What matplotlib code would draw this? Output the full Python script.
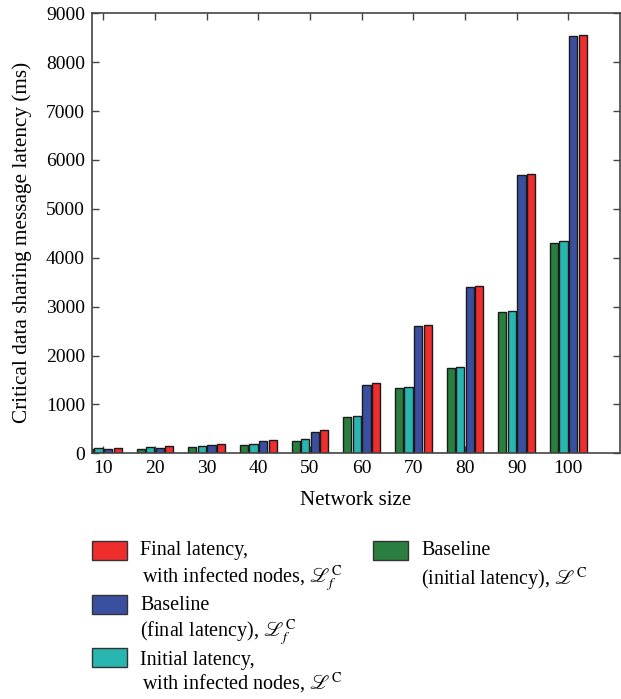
import numpy as np
import matplotlib
matplotlib.use("Agg")
import matplotlib.pyplot as plt
from matplotlib.patches import Rectangle

plt.rcParams['font.family'] = ['Liberation Serif', 'DejaVu Serif']
plt.rcParams['mathtext.fontset'] = 'stix'

network_size = [10, 20, 30, 40, 50, 60, 70, 80, 90, 100]
baseline_initial = [80, 95, 123, 164, 252, 736, 1336, 1738, 2883, 4310]
initial_infected = [109, 123, 150, 191, 286, 770, 1363, 1766, 2911, 4342]
baseline_final = [82, 109, 164, 252, 443, 1397, 2597, 3408, 5699, 8540]
final_infected = [109, 143, 191, 273, 470, 1431, 2624, 3429, 5719, 8565]

series = [baseline_initial, initial_infected, baseline_final, final_infected]
colors = ['#2A7F3F', '#29B6B0', '#3B4FA0', '#EE2D2D']

W, H = 621, 699
fig = plt.figure(figsize=(W / 100, H / 100), dpi=100)
ax = fig.add_axes([92 / W, 1 - 453.3 / H, (620 - 92) / W, (453.3 - 13.3) / H])

x = np.array(network_size, dtype=float)
d = 1.85
bw = 1.6
for i, (vals, c) in enumerate(zip(series, colors)):
    ax.bar(x + (i - 1.5) * d, vals, bw, color=c, edgecolor='#1a1a1a',
           linewidth=1.0, zorder=2)

ax.set_xlim(7.8, 110)
ax.set_ylim(0, 9000)
ax.set_xticks(network_size)
ax.set_yticks(np.arange(0, 9001, 1000))
ax.tick_params(direction='in', top=True, right=True, labelsize=14,
               length=5, width=1, color='#444444', pad=5)
for s in ax.spines.values():
    s.set_color('#444444')
    s.set_linewidth(1.2)

ax.set_xlabel('Network size', fontsize=15, labelpad=10)
ax.set_ylabel('Critical data sharing message latency (ms)', fontsize=15.3)
ax.yaxis.set_label_coords(-0.114, 0.48)


def fx(px):
    return px / W


def fy(py):
    return 1 - py / H


fs = 14.5
entries = [
    (92, 541, colors[3], ['Final latency,', r'with infected nodes, $\mathscr{L}_f^{\mathrm{C}}$'], [555, 583], [0, 2]),
    (92, 595, colors[2], ['Baseline', r'(final latency), $\mathscr{L}_f^{\mathrm{C}}$'], [610, 637], [0, 0]),
    (92, 648, colors[1], ['Initial latency,', r'with infected nodes, $\mathscr{L}^{\mathrm{C}}$'], [665, 690], [0, 2]),
    (373, 541, colors[0], ['Baseline', r'(initial latency), $\mathscr{L}^{\mathrm{C}}$'], [555, 585], [0, 0]),
]
for px, py, c, lines, bases, ind in entries:
    fig.patches.append(Rectangle((fx(px), fy(py + 19)), 35 / W, 19 / H,
                                 transform=fig.transFigure, facecolor=c,
                                 edgecolor='#333333', linewidth=1.0))
    for ln, b, dx in zip(lines, bases, ind):
        fig.text(fx(px + 48 + dx), fy(b), ln, fontsize=fs, va='baseline', ha='left')

fig.savefig('out.png', dpi=100)
